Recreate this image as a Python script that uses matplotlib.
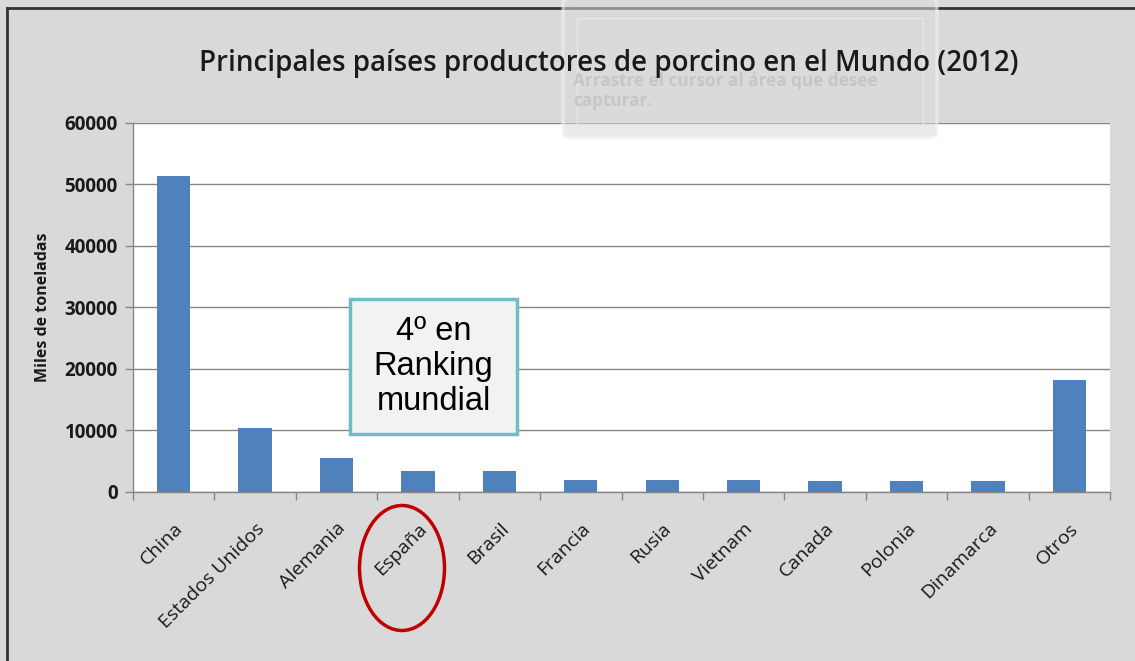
import matplotlib
matplotlib.use("Agg")
import matplotlib.pyplot as plt
from matplotlib.patches import Ellipse, FancyBboxPatch, Rectangle
from matplotlib.lines import Line2D
import numpy as np

paises = ["China", "Estados Unidos", "Alemania", "España", "Brasil", "Francia",
          "Rusia", "Vietnam", "Canada", "Polonia", "Dinamarca", "Otros"]
produccion = [51300, 10300, 5500, 3300, 3300, 1950,
              1900, 1900, 1750, 1750, 1750, 18150]
yticks = [0, 10000, 20000, 30000, 40000, 50000, 60000]

W, H = 1135, 661
fig = plt.figure(figsize=(W / 100, H / 100), dpi=100)
fig.patch.set_facecolor("#d9d9d9")

ax = fig.add_axes([133 / W, 1 - 491.7 / H, 977 / W, 369 / H])
ax.set_facecolor("white")

x = np.arange(len(paises))
ax.bar(x, produccion, width=0.41, color="#4f81bd", zorder=3)

ax.set_xlim(-0.5, len(paises) - 0.5)
ax.set_ylim(0, 60000)
ax.set_yticks(yticks)
ax.set_yticklabels([str(v) for v in yticks], fontfamily="Open Sans",
                   fontweight="bold", fontsize=13.5, color="#1a1a1a")
ax.yaxis.grid(True, color="#868686", linewidth=1, zorder=0)
ax.tick_params(axis="y", length=6, width=1, color="#868686", pad=5)

# ticks between the categories, labels on the categories
ax.set_xticks(np.arange(-0.5, len(paises), 1))
ax.set_xticklabels([])
ax.set_xticks(x, minor=True)
ax.set_xticklabels(paises, minor=True, rotation=45, ha="right",
                   rotation_mode="anchor", fontfamily="Open Sans",
                   fontsize=14, color="#1a1a1a")
ax.tick_params(axis="x", which="major", length=6, width=1, color="#868686")
ax.tick_params(axis="x", which="minor", length=0, pad=20)

for s in ["top", "right"]:
    ax.spines[s].set_visible(False)
for s in ["left", "bottom"]:
    ax.spines[s].set_color("#868686")
    ax.spines[s].set_linewidth(1)

ax.set_ylabel("Miles de toneladas", fontfamily="Open Sans", fontweight="bold",
              fontsize=11.5, color="#1a1a1a", labelpad=10)

fig.text(609 / W, 1 - 63 / H,
         "Principales países productores de porcino en el Mundo (2012)",
         ha="center", va="center", fontfamily="Open Sans", fontweight="semibold",
         fontsize=20, color="#1a1a1a", zorder=20)

# box with the ranking note
ax.add_patch(Rectangle((0.2221, 0.1564), 0.1709, 0.3658, transform=ax.transAxes,
                       facecolor="#f2f2f2", edgecolor="#6fbcc4", linewidth=2.5,
                       zorder=6))
ax.text(0.3076, 0.3393, "4º en\nRanking\nmundial", transform=ax.transAxes,
        ha="center", va="center", fontfamily="Liberation Sans", fontsize=23.5,
        linespacing=1.15, color="black", zorder=7)

# red circle round España
fig.patches.append(Ellipse((402 / W, 1 - 568 / H), 85 / W, 125 / H,
                           transform=fig.transFigure, fill=False,
                           edgecolor="#c00000", linewidth=2.5))

# frame lines of the screenshot
fig.lines.append(Line2D([7 / W, 7 / W], [0, 1 - 8 / H], transform=fig.transFigure,
                        color="#333333", linewidth=2))
fig.lines.append(Line2D([7 / W, 1], [1 - 8 / H, 1 - 8 / H], transform=fig.transFigure,
                        color="#333333", linewidth=2))

# faded capture tooltip over the top
fig.patches.append(FancyBboxPatch((563 / W, 1 - 138 / H), 374 / W, 140 / H,
                                  boxstyle="round,pad=0,rounding_size=0.008",
                                  transform=fig.transFigure, facecolor="#dcdcdc",
                                  alpha=0.55, edgecolor="#f4f4f4", linewidth=2.5,
                                  zorder=10))
fig.patches.append(Rectangle((577 / W, 1 - 128 / H), 346 / W, 110 / H,
                             transform=fig.transFigure, fill=False,
                             edgecolor="#e8e8e8", linewidth=1, zorder=11))
fig.text(573 / W, 1 - 91 / H, "Arrastre el cursor al área que desee\ncapturar.",
         ha="left", va="center", fontfamily="Open Sans", fontweight="bold",
         fontsize=12.3, color="#c6c6c6", linespacing=1.2, zorder=12)

fig.savefig("out.png", dpi=100, facecolor=fig.get_facecolor())
